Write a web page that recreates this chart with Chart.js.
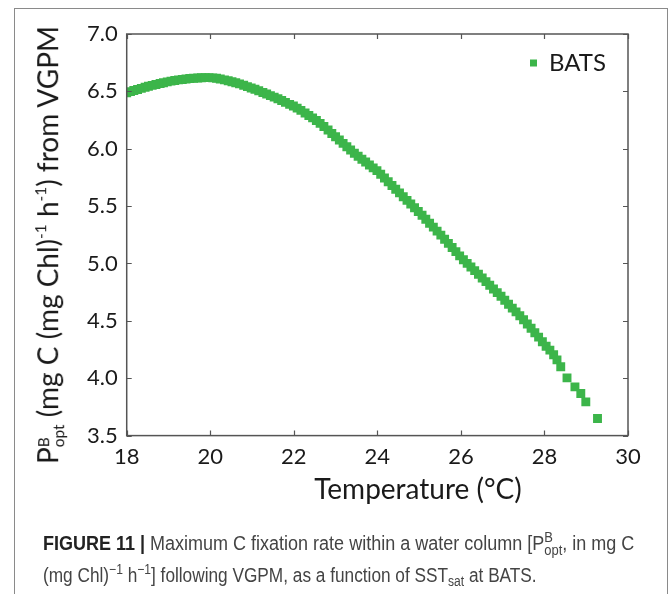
<!DOCTYPE html>
<html><head><meta charset="utf-8">
<script src="https://cdn.jsdelivr.net/npm/chart.js@4"></script>
<style>
html,body{margin:0;padding:0;background:#fff;width:669px;height:594px;overflow:hidden;position:relative;}
#frame{position:absolute;left:14px;top:8px;width:654px;height:620px;border:1.5px solid #8a8a8a;box-sizing:border-box;}
#c{position:absolute;left:0;top:0;}
.ytitle{position:absolute;left:48px;top:245px;transform:translate(-50%,-50%) rotate(-90deg);white-space:nowrap;font-family:Lato,sans-serif;font-size:28px;color:#1a1a1a;}
.xtitle{position:absolute;left:418px;top:488px;transform:translate(-50%,-50%);white-space:nowrap;font-family:Lato,sans-serif;font-size:28px;color:#1a1a1a;}
.ss{display:inline-block;vertical-align:-6px;line-height:0.95;font-size:0.55em;text-align:left;}
.ss span{display:block;}
.ytitle sup{font-size:0.55em;vertical-align:0.75em;line-height:0;}
.cap{position:absolute;left:43px;font-family:"Liberation Sans Narrow","Arial Narrow","Liberation Sans",sans-serif;font-size:20px;line-height:32px;color:#444;white-space:nowrap;transform-origin:0 0;}
#cap1{top:527px;transform:scaleX(0.90);}
#cap2{top:559px;transform:scaleX(0.862);}
.cap b{color:#222;}
.cap sup{font-size:0.7em;vertical-align:0.6em;line-height:0;}
.cap sub{font-size:0.7em;vertical-align:-0.25em;line-height:0;}
.cap .ss{vertical-align:-5px;font-size:0.72em;line-height:0.9;}
</style></head>
<body>
<div id="frame"></div>
<canvas id="c" width="669" height="594"></canvas>
<div class="ytitle">P<span class="ss"><span>B</span><span>opt</span></span> (mg C (mg Chl)<sup>-1</sup> h<sup>-1</sup>) from VGPM</div>
<div class="xtitle">Temperature (°C)</div>
<div class="cap" id="cap1"><b>FIGURE 11 |</b> Maximum C fixation rate within a water column [P<span class="ss"><span>B</span><span>opt</span></span>, in mg C</div>
<div class="cap" id="cap2">(mg Chl)<sup>−1</sup> h<sup>−1</sup>] following VGPM, as a function of SST<sub>sat</sub> at BATS.</div>
<script>
const seriesName = "BATS";
const temperature = [
18.00,18.09,18.17,18.26,18.35,18.44,18.52,18.61,18.70,18.80,18.88,18.97,19.06,19.15,19.24,19.33,19.42,19.51,19.60,19.70,
19.79,19.88,19.97,20.06,20.15,20.24,20.34,20.43,20.52,20.61,20.70,20.80,20.89,20.98,21.07,21.16,21.26,21.35,21.44,21.53,
21.62,21.71,21.80,21.90,21.99,22.08,22.17,22.27,22.36,22.45,22.54,22.63,22.72,22.82,22.91,23.00,23.09,23.18,23.27,23.36,
23.45,23.54,23.63,23.72,23.81,23.90,23.99,24.08,24.17,24.26,24.35,24.44,24.53,24.62,24.71,24.80,24.89,24.98,25.07,25.16,
25.25,25.34,25.43,25.52,25.61,25.70,25.79,25.88,25.97,26.06,26.15,26.24,26.33,26.42,26.51,26.60,26.69,26.78,26.87,26.96,
27.05,27.14,27.23,27.32,27.41,27.50,27.59,27.68,27.77,27.86,27.95,28.04,28.13,28.22,28.30,28.39,28.54,28.73,28.87,28.99,29.27];
const pbopt = [
6.488,6.498,6.507,6.517,6.526,6.536,6.544,6.552,6.560,6.568,6.575,6.583,6.589,6.595,6.600,6.604,6.608,6.612,6.615,6.617,
6.619,6.620,6.620,6.618,6.614,6.608,6.600,6.592,6.584,6.575,6.565,6.553,6.541,6.530,6.518,6.505,6.490,6.477,6.463,6.450,
6.435,6.420,6.404,6.387,6.373,6.354,6.334,6.311,6.290,6.269,6.246,6.221,6.194,6.163,6.133,6.105,6.076,6.047,6.018,5.989,
5.961,5.934,5.909,5.884,5.858,5.833,5.809,5.778,5.745,5.712,5.680,5.647,5.615,5.582,5.550,5.518,5.486,5.453,5.420,5.386,
5.351,5.317,5.282,5.247,5.211,5.175,5.139,5.103,5.066,5.033,5.001,4.970,4.938,4.906,4.874,4.842,4.810,4.778,4.746,4.714,
4.679,4.645,4.611,4.578,4.544,4.510,4.473,4.435,4.396,4.358,4.318,4.279,4.245,4.205,4.160,4.100,4.003,3.925,3.867,3.794,3.649];
const xTickValues = [18,20,22,24,26,28,30];
const yTickValues = [3.5,4.0,4.5,5.0,5.5,6.0,6.5,7.0];
const yTickLabels = ["3.5","4.0","4.5","5.0","5.5","6.0","6.5","7.0"];

const GREEN = '#3cb54a';
const AXIS = '#555555';

const framePlugin = {
  id: 'frameTicks',
  afterLayout(chart) {
    const lg = chart.legend;
    if (lg) {
      const w = lg.width, h = lg.height;
      lg.left = chart.chartArea.right - 108;
      lg.right = lg.left + w;
      lg.top = chart.chartArea.top + 7;
      lg.bottom = lg.top + h;
    }
  },
  afterDatasetsDraw(chart) {
    const {ctx, chartArea: {left, right, top, bottom}, scales: {x, y}} = chart;
    ctx.save();
    ctx.strokeStyle = AXIS;
    ctx.lineWidth = 1.5;
    ctx.strokeRect(left, top, right - left, bottom - top);
    ctx.lineWidth = 1.2;
    ctx.beginPath();
    const L = 5;
    x.ticks.forEach(t => {
      const px = Math.round(x.getPixelForValue(t.value)) + 0.5;
      ctx.moveTo(px, bottom); ctx.lineTo(px, bottom - L);
      ctx.moveTo(px, top); ctx.lineTo(px, top + L);
    });
    y.ticks.forEach(t => {
      const py = Math.round(y.getPixelForValue(t.value)) + 0.5;
      ctx.moveTo(left, py); ctx.lineTo(left + L, py);
      ctx.moveTo(right, py); ctx.lineTo(right - L, py);
    });
    ctx.stroke();
    ctx.restore();
  }
};

new Chart(document.getElementById('c'), {
  type: 'scatter',
  data: {
    datasets: [{
      label: seriesName,
      data: temperature.map((t, i) => ({x: t, y: pbopt[i]})),
      pointStyle: 'rect',
      pointRadius: 6.3,
      pointHoverRadius: 6.3,
      backgroundColor: GREEN,
      borderColor: GREEN,
      borderWidth: 0
    }]
  },
  options: {
    responsive: false,
    animation: false,
    events: [],
    layout: {padding: {left: 78, right: 41, top: 34, bottom: 116}},
    plugins: {
      tooltip: {enabled: false},
      legend: {
        position: 'chartArea',
        align: 'start',
        labels: {
          usePointStyle: true,
          pointStyle: 'rect',
          boxWidth: 7,
          boxHeight: 7,
          padding: 10,
          color: '#1a1a1a',
          font: {family: 'Lato', size: 24}
        }
      }
    },
    scales: {
      x: {
        type: 'linear',
        min: 18, max: 30,
        afterBuildTicks: s => { s.ticks = xTickValues.map(v => ({value: v})); },
        grid: {display: false, drawTicks: false},
        border: {display: false},
        ticks: {
          padding: 8,
          color: '#1a1a1a',
          font: {family: 'Lato', size: 22},
          maxRotation: 0,
          callback: v => String(v)
        }
      },
      y: {
        type: 'linear',
        min: 3.5, max: 7.0,
        afterBuildTicks: s => { s.ticks = yTickValues.map(v => ({value: v})); },
        grid: {display: false, drawTicks: false},
        border: {display: false},
        ticks: {
          padding: 9,
          color: '#1a1a1a',
          font: {family: 'Lato', size: 22},
          callback: v => { const i = yTickValues.indexOf(v); return i >= 0 ? yTickLabels[i] : ''; }
        }
      }
    }
  },
  plugins: [framePlugin]
});
</script>
</body></html>
